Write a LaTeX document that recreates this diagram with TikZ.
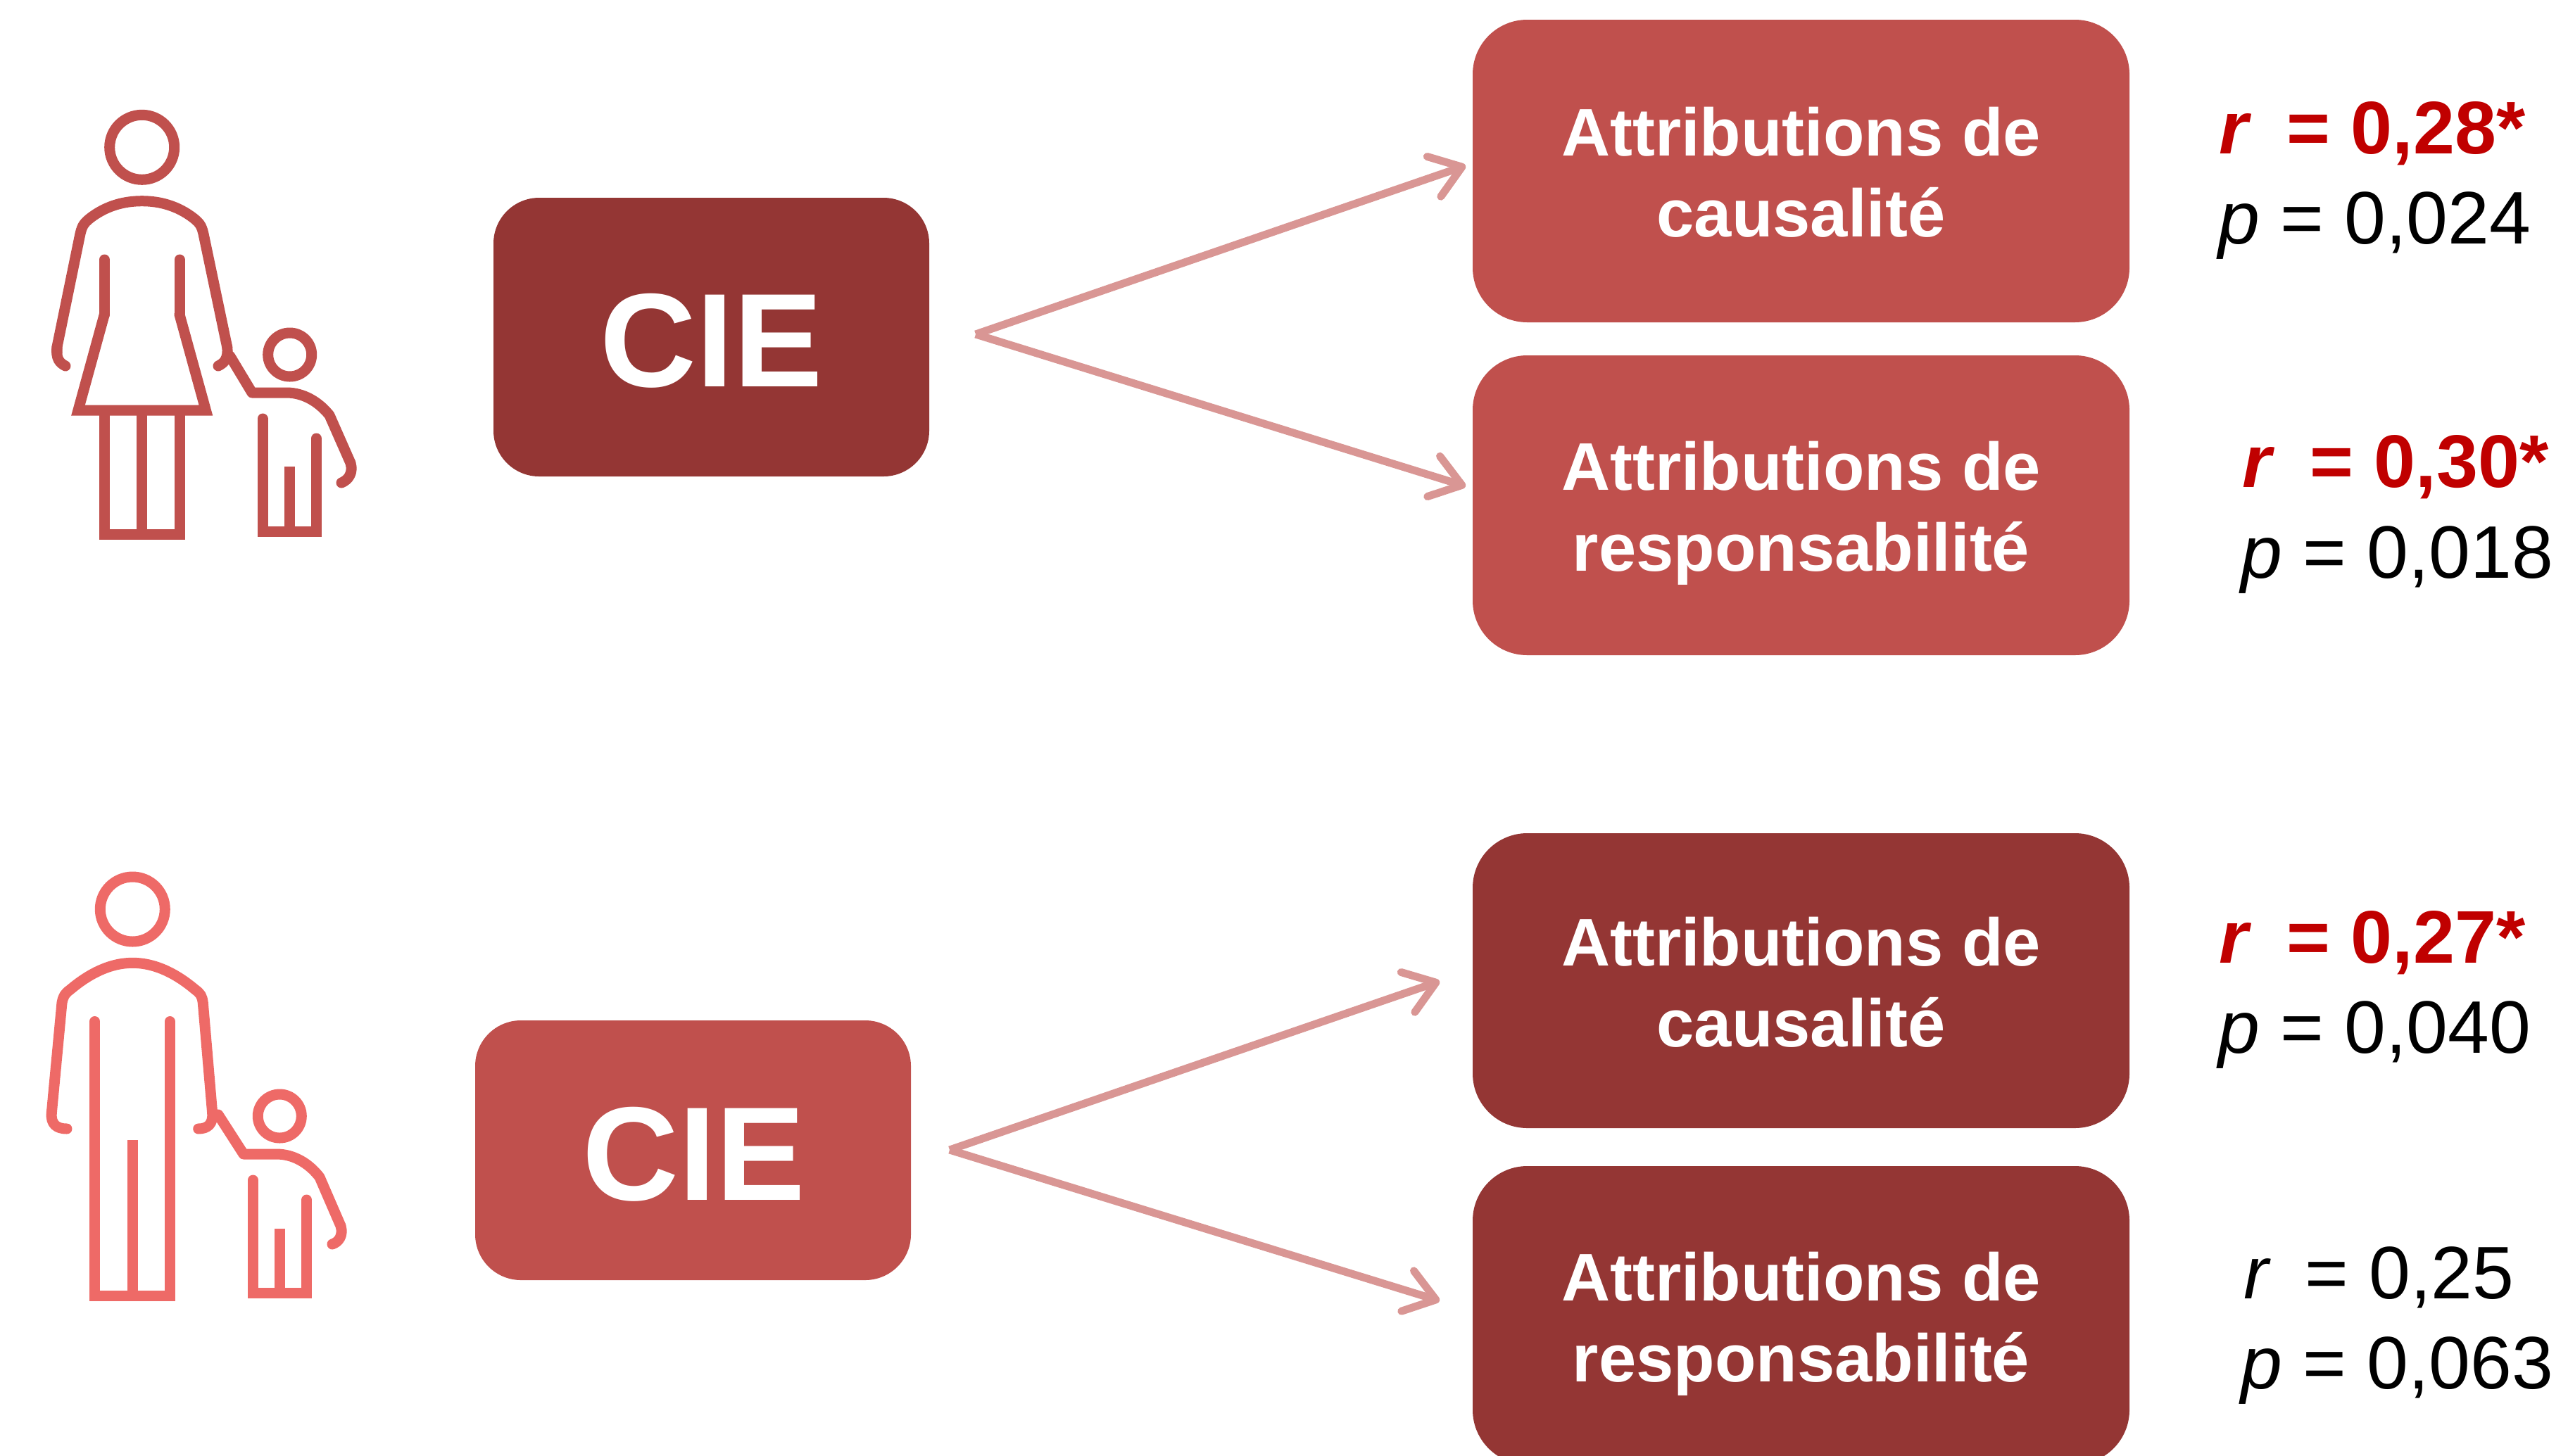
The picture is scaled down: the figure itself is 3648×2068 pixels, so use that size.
\documentclass[tikz,border=0pt]{standalone}
\usepackage{fontspec}
\setmainfont{Liberation Sans}
\usetikzlibrary{arrows.meta}
\definecolor{darkred}{HTML}{943634}
\definecolor{midred}{HTML}{C0504D}
\definecolor{fatherred}{HTML}{EE6A67}
\definecolor{arrowred}{HTML}{D99694}
\definecolor{sigred}{HTML}{C00000}
\tikzset{
  x=0.2pt,y=-0.2pt,
  attrbox/.style={rounded corners=15.5pt,minimum width=186.6pt,inner sep=0pt},
  attrtext/.style={anchor=base,inner sep=0pt,align=center,text=white,
     font=\fontsize{19.15pt}{23pt}\selectfont\bfseries},
  ciebox/.style={rounded corners=13pt,minimum width=123.8pt,inner sep=0pt},
  cietext/.style={anchor=base,inner sep=0pt,text=white,
     font=\fontsize{37.9pt}{44pt}\selectfont\bfseries},
  link/.style={draw=arrowred,line width=2.2pt,-{Straight Barb[length=8.4pt,width=12pt,line width=2.2pt,round]}},
  stat/.style={anchor=base west,inner sep=0pt,font=\fontsize{21.15pt}{25pt}\selectfont},
  sig/.style={stat,text=sigred,font=\fontsize{21.2pt}{25pt}\selectfont\bfseries},
  icon/.style={line width=3pt,line cap=round,line join=round},
  iconflat/.style={line width=3pt,line cap=butt,line join=miter},
}
\begin{document}
\begin{tikzpicture}
\useasboundingbox (0,0) rectangle (3648,2068);
\clip (0,0) rectangle (3648,2068);
% boxes
\node[ciebox,fill=darkred,minimum height=79.2pt] (cieA) at (1010.5,479) {};
\node[ciebox,fill=midred,minimum height=73.8pt] (cieB) at (984.5,1634.5) {};
\node[cietext] (cieAt) at (1010.5,549) {CIE};
\node[cietext] (cieBt) at (985.5,1705) {CIE};
\node[attrbox,fill=midred,minimum height=86pt] (a1) at (2558.5,243) {};
\node[attrbox,fill=midred,minimum height=85.2pt] (a2) at (2558.5,718) {};
\node[attrbox,fill=darkred,minimum height=83.8pt] (b1) at (2558.5,1393.5) {};
\node[attrbox,fill=darkred,minimum height=84.8pt] (b2) at (2558.5,1869) {};
\node[attrtext] (a1t) at (2558.5,336.7) {Attributions de\\causalité};
\node[attrtext] (a2t) at (2558.5,811.7) {Attributions de\\responsabilité};
\node[attrtext] (b1t) at (2558.5,1487.7) {Attributions de\\causalité};
\node[attrtext] (b2t) at (2558.5,1963.7) {Attributions de\\responsabilité};
% connectors
\coordinate (sA) at (1386,475);
\coordinate (eA1) at (2082,235.4);
\coordinate (eA2) at (2082,691);
\coordinate (sB) at (1349,1634);
\coordinate (eB1) at (2045,1394.4);
\coordinate (eB2) at (2045,1848.5);
\draw[link] (sA) -- (eA1);
\draw[link] (sA) -- (eA2);
\draw[link] (sB) -- (eB1);
\draw[link] (sB) -- (eB2);
% statistics
\node[sig] (r1) at (3151,218) {\textit{r}\ \ \hspace{-1.7pt}= 0,28*};
\node[stat] (p1) at (3150,346) {\textit{p} = 0,024};
\node[sig] (r2) at (3184,692) {\textit{r}\ \ \hspace{-1.7pt}= 0,30*};
\node[stat] (p2) at (3182,821) {\textit{p} = 0,018};
\node[sig] (r3) at (3151,1368) {\textit{r}\ \ \hspace{-1.7pt}= 0,27*};
\node[stat] (p3) at (3150,1496) {\textit{p} = 0,040};
\node[stat] (r4) at (3186,1845) {\textit{r}\ \ \hspace{-2pt}= 0,25};
\node[stat] (p4) at (3182,1973.5) {\textit{p} = 0,063};
% mother and child
\draw[icon,midred] (201.7,209.3) circle[radius=46];
\draw[icon,midred] (81,502) -- (81,493) -- (113,337)
  .. controls (116,322) and (118,318) .. (128,310)
  .. controls (150,293) and (175,285.7) .. (201.7,285.7)
  .. controls (228,285.7) and (253,293) .. (275,310)
  .. controls (285,318) and (287,322) .. (290,337) -- (322.7,493);
\draw[icon,midred] (81,493) .. controls (79,510) and (85,516) .. (93,520);
\draw[icon,midred] (322.7,493) .. controls (324.7,510) and (318,516) .. (310,520);
\draw[icon,midred] (148.3,369) -- (148.3,447);
\draw[icon,midred] (255,369) -- (255,447);
\draw[iconflat,midred] (148.3,445) -- (148.3,447) -- (111,583) -- (292.4,583) -- (255,447) -- (255,445);
\draw[iconflat,midred] (148.3,583) -- (148.3,759) -- (255,759) -- (255,583);
\draw[iconflat,midred] (201.7,583) -- (201.7,759);
\draw[icon,midred] (326.7,506) -- (358,558) -- (407,558)
  .. controls (430,558) and (452,570) .. (468,590) -- (498,658)
  .. controls (502,672) and (495,682) .. (485,686);
\draw[icon,midred] (411.7,504) circle[radius=31];
\draw[icon,midred] (373,595) -- (373,620);
\draw[icon,midred] (449.3,623) -- (449.3,650);
\draw[iconflat,midred] (373,610) -- (373,755) -- (449.3,755) -- (449.3,640);
\draw[iconflat,midred] (411.7,663.4) -- (411.7,755);
% father and child
\draw[icon,fatherred] (188.3,1292) circle[radius=46];
\draw[icon,fatherred] (73.3,1581.6) -- (88,1425)
  .. controls (90,1415) and (92,1412) .. (100,1406)
  .. controls (125,1385) and (155,1368.3) .. (188.3,1368.3)
  .. controls (222,1368.3) and (252,1385) .. (277,1406)
  .. controls (285,1412) and (287,1415) .. (288.3,1425) -- (301.7,1581.6);
\draw[icon,fatherred] (73.3,1581.6) .. controls (72,1597) and (80,1604) .. (95,1604);
\draw[icon,fatherred] (301.7,1581.6) .. controls (303,1597) and (295,1604) .. (281.7,1604);
\draw[icon,fatherred] (134.7,1451.5) -- (134.7,1480);
\draw[icon,fatherred] (241.3,1451.5) -- (241.3,1480);
\draw[iconflat,fatherred] (134.7,1470) -- (134.7,1841) -- (241.3,1841) -- (241.3,1470);
\draw[iconflat,fatherred] (188.3,1620) -- (188.3,1841);
\draw[icon,fatherred] (310,1584) -- (346,1640) -- (393,1640)
  .. controls (416,1640) and (438,1652) .. (454,1672.7) -- (484,1742)
  .. controls (488,1756) and (481,1765) .. (472,1768);
\draw[icon,fatherred] (397.3,1586) circle[radius=31];
\draw[icon,fatherred] (359.3,1677) -- (359.3,1700);
\draw[icon,fatherred] (435.7,1705) -- (435.7,1730);
\draw[iconflat,fatherred] (359.3,1690) -- (359.3,1837.5) -- (435.7,1837.5) -- (435.7,1720);
\draw[iconflat,fatherred] (397.7,1746) -- (397.7,1837.5);
\end{tikzpicture}
\end{document}
